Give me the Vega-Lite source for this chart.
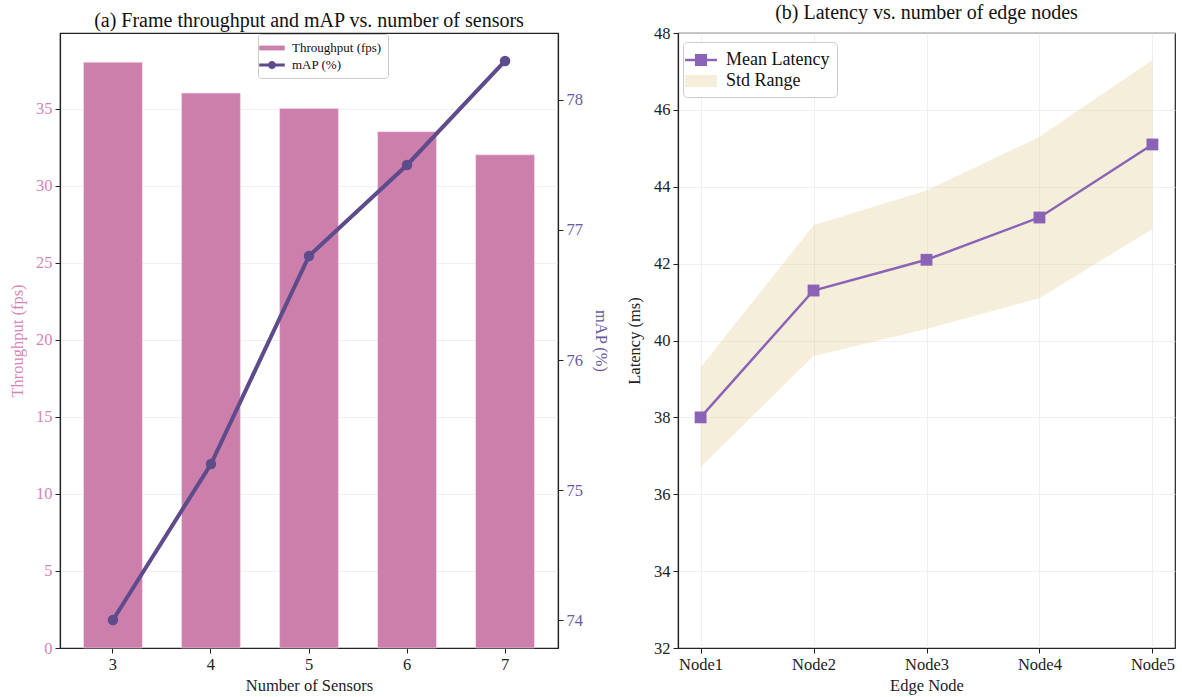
{
  "$schema": "https://vega.github.io/schema/vega-lite/v6.json",
  "padding": {"left": 8, "top": 2, "right": 5, "bottom": 0},
  "background": "white",
  "spacing": 120,
  "bounds": "flush",
  "hconcat": [
    {
      "width": 498,
      "height": 615,
      "title": {"text": "(a) Frame throughput and mAP vs. number of sensors"},
      "data": {"values": [
        {"sensors": 3, "throughput": 38.0, "mAP": 74.0},
        {"sensors": 4, "throughput": 36.0, "mAP": 75.2},
        {"sensors": 5, "throughput": 35.0, "mAP": 76.8},
        {"sensors": 6, "throughput": 33.5, "mAP": 77.5},
        {"sensors": 7, "throughput": 32.0, "mAP": 78.3}
      ]},
      "encoding": {
        "x": {"field": "sensors", "type": "ordinal",
          "scale": {"paddingInner": 0.4, "paddingOuter": 0.24},
          "axis": {"title": "Number of Sensors", "labelAngle": 0, "grid": false, "titlePadding": 5}}
      },
      "layer": [
        {
          "mark": {"type": "bar", "stroke": "#f3dbe8", "strokeWidth": 0.6},
          "encoding": {
            "y": {"field": "throughput", "type": "quantitative",
              "scale": {"domain": [0, 39.9], "nice": false, "zero": true},
              "axis": {"title": "Throughput (fps)", "values": [0, 5, 10, 15, 20, 25, 30, 35],
                "grid": true, "labelColor": "#d683b8", "titleColor": "#d683b8", "titlePadding": 10}},
            "color": {"datum": "Throughput (fps)", "type": "nominal",
              "scale": {"domain": ["Throughput (fps)", "mAP (%)"], "range": ["#cc7fab", "#5e4b8b"]},
              "legend": {
                "title": null, "orient": "none", "legendX": 198, "legendY": 1,
                "labelFontSize": 13, "labelColor": "#111", "padding": 6,
                "fillColor": "white", "strokeColor": "#cccccc", "cornerRadius": 3,
                "symbolType": "M-1.6,-0.25H1.6V0.25H-1.6Z",
                "symbolSize": 256, "rowPadding": 2, "labelOffset": 12,
                "symbolStrokeWidth": 0, "symbolOpacity": 1,
                "encode": {"symbols": {"update": {
                  "shape": {"signal": "datum.value === 'mAP (%)' ? 'M-1.6,-0.2H1.6V0.2H-1.6Z M-0.5,0 A0.5,0.5 0 1,1 0.5,0 A0.5,0.5 0 1,1 -0.5,0Z' : 'M-1.6,-0.3H1.6V0.3H-1.6Z'"},
                  "fill": {"signal": "datum.value === 'mAP (%)' ? '#5e4b8b' : '#cc7fab'"},
                  "strokeWidth": {"value": 0},
                  "opacity": {"value": 1}
                }}}
              }}
          }
        },
        {
          "mark": {"type": "line", "strokeWidth": 4, "point": {"filled": true, "size": 110}},
          "encoding": {
            "y": {"field": "mAP", "type": "quantitative",
              "scale": {"domain": [73.785, 78.515], "nice": false, "zero": false},
              "axis": {"orient": "right", "title": "mAP (%)", "values": [74, 75, 76, 77, 78],
                "grid": false, "labelColor": "#6a5a9e", "titleColor": "#6a5a9e", "titlePadding": 10}},
            "color": {"datum": "mAP (%)", "type": "nominal",
              "legend": {
                "title": null, "orient": "none", "legendX": 198, "legendY": 1,
                "labelFontSize": 13, "labelColor": "#111", "padding": 6,
                "fillColor": "white", "strokeColor": "#cccccc", "cornerRadius": 3,
                "symbolType": "M-1.6,-0.25H1.6V0.25H-1.6Z",
                "symbolSize": 256, "rowPadding": 2, "labelOffset": 12,
                "symbolStrokeWidth": 0, "symbolOpacity": 1,
                "encode": {"symbols": {"update": {
                  "shape": {"signal": "datum.value === 'mAP (%)' ? 'M-1.6,-0.2H1.6V0.2H-1.6Z M-0.5,0 A0.5,0.5 0 1,1 0.5,0 A0.5,0.5 0 1,1 -0.5,0Z' : 'M-1.6,-0.3H1.6V0.3H-1.6Z'"},
                  "fill": {"signal": "datum.value === 'mAP (%)' ? '#5e4b8b' : '#cc7fab'"},
                  "strokeWidth": {"value": 0},
                  "opacity": {"value": 1}
                }}}
              }}
          }
        }
      ],
      "resolve": {"scale": {"y": "independent"}}
    },
    {
      "width": 497,
      "height": 615,
      "title": {"text": "(b) Latency vs. number of edge nodes"},
      "data": {"values": [
        {"node": "Node1", "mean": 38.0, "lower": 36.7, "upper": 39.3},
        {"node": "Node2", "mean": 41.3, "lower": 39.6, "upper": 43.0},
        {"node": "Node3", "mean": 42.1, "lower": 40.3, "upper": 43.9},
        {"node": "Node4", "mean": 43.2, "lower": 41.1, "upper": 45.3},
        {"node": "Node5", "mean": 45.1, "lower": 42.9, "upper": 47.3}
      ]},
      "encoding": {
        "x": {"field": "node", "type": "ordinal",
          "scale": {"type": "point", "padding": 0.2},
          "axis": {"title": "Edge Node", "labelAngle": 0, "grid": true, "titlePadding": 5}}
      },
      "layer": [
        {
          "mark": {"type": "area", "opacity": 0.4},
          "encoding": {
            "y": {"field": "lower", "type": "quantitative",
              "scale": {"domain": [32, 48], "nice": false, "zero": false},
              "axis": {"title": "Latency (ms)", "values": [32, 34, 36, 38, 40, 42, 44, 46, 48],
                "grid": true, "titlePadding": 11}},
            "y2": {"field": "upper"},
            "color": {"datum": "Std Range", "type": "nominal",
              "scale": {"domain": ["Mean Latency", "Std Range"], "range": ["#8b63b6", "#e6d5a5"]},
              "legend": {
                "title": null, "orient": "none", "legendX": 5, "legendY": 9,
                "labelFontSize": 18, "labelColor": "#111", "padding": 7,
                "fillColor": "white", "strokeColor": "#cccccc", "cornerRadius": 4,
                "symbolSize": 484, "rowPadding": 1, "labelOffset": 14,
                "symbolStrokeWidth": 0, "symbolOpacity": 1,
                "encode": {"symbols": {"update": {
                  "shape": {"signal": "datum.value === 'Mean Latency' ? 'M-1.45,-0.12H1.45V0.12H-1.45Z M-0.55,-0.55H0.55V0.55H-0.55Z' : 'M-1.45,-0.55H1.45V0.55H-1.45Z'"},
                  "fill": {"signal": "datum.value === 'Mean Latency' ? '#8b63b6' : '#e6d5a5'"},
                  "strokeWidth": {"value": 0},
                  "opacity": {"signal": "datum.value === 'Mean Latency' ? 1 : 0.4"}
                }}}
              }}
          }
        },
        {
          "mark": {"type": "line", "strokeWidth": 2.5, "point": {"shape": "square", "filled": true, "size": 140}},
          "encoding": {
            "y": {"field": "mean", "type": "quantitative"},
            "color": {"datum": "Mean Latency", "type": "nominal"}
          }
        }
      ]
    }
  ],
  "resolve": {"scale": {"color": "independent"}, "legend": {"color": "independent"}},
  "config": {
    "font": "Liberation Serif",
    "view": {"stroke": "#222222", "strokeWidth": 1.2},
    "title": {"fontSize": 20, "fontWeight": "normal", "color": "#111111", "offset": 2, "font": "Liberation Serif"},
    "axis": {
      "labelFont": "Liberation Serif", "titleFont": "Liberation Serif",
      "labelFontSize": 16.5, "titleFontSize": 16.5, "titleFontWeight": "normal",
      "labelColor": "#222222", "titleColor": "#222222",
      "domainColor": "#222222", "domainWidth": 1.2, "tickColor": "#222222", "tickSize": 5, "tickWidth": 1,
      "labelPadding": 3, "gridColor": "#ebebeb", "gridWidth": 0.8
    },
    "legend": {"labelFont": "Liberation Serif"}
  }
}
